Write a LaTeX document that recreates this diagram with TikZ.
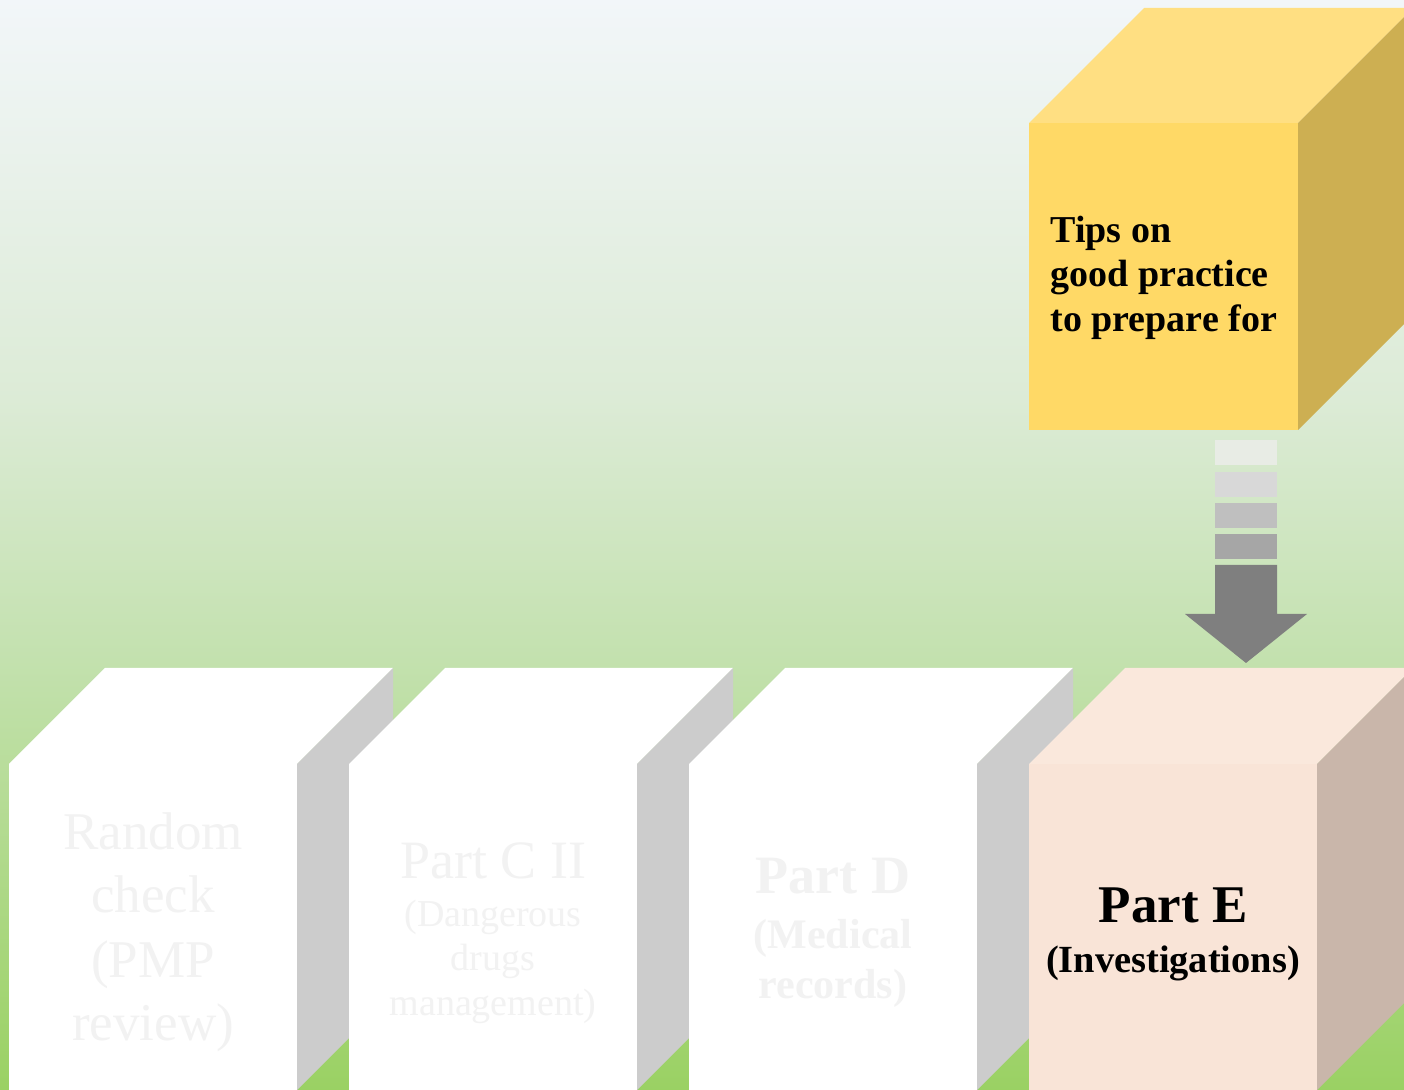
\documentclass[tikz,border=0pt]{standalone}
\usepackage{fontspec}
\setmainfont{Liberation Serif}
\usetikzlibrary{calc}
\definecolor{bgtop}{HTML}{F2F6F9}
\definecolor{bgmid}{HTML}{DCEBD6}
\definecolor{bglow}{HTML}{C3E1AE}
\definecolor{bgbot}{HTML}{9AD163}
\definecolor{ghost}{HTML}{F2F2F2}
\definecolor{sidegray}{HTML}{CCCCCC}
\definecolor{peachfront}{HTML}{F9E4D7}
\definecolor{peachtop}{HTML}{FAE8DC}
\definecolor{peachside}{HTML}{C9B6AA}
\definecolor{yelfront}{HTML}{FFD966}
\definecolor{yeltop}{HTML}{FFDF82}
\definecolor{yelside}{HTML}{CDAF52}
\definecolor{stripeA}{HTML}{E8ECE5}
\definecolor{stripeB}{HTML}{D8D8D8}
\definecolor{stripeC}{HTML}{BFBFBF}
\definecolor{stripeD}{HTML}{A6A6A6}
\definecolor{arrowgray}{HTML}{7F7F7F}
\begin{document}
\begin{tikzpicture}[x=0.5pt,y=-0.5pt,
  frontface/.style={anchor=north west,inner sep=0pt,outer sep=0pt,draw=none,
     minimum width=144pt,minimum height=163pt},
  txt/.style={anchor=base,inner sep=0pt},
  ghosttxt/.style={txt,text=ghost},
  stripe/.style={draw=none}]
\useasboundingbox (0,0) rectangle (1404,1090);
\clip (0,0) rectangle (1404,1090);
% background
\fill[top color=bgtop,bottom color=bgmid] (0,-1) rectangle (1404,400);
\fill[top color=bgmid,bottom color=bglow] (0,399) rectangle (1404,661);
\fill[top color=bglow,bottom color=bgbot] (0,660) rectangle (1404,1091);
% four lower cubes
\foreach \i/\xx/\fc/\tc/\sc in {1/9/white/white/sidegray,2/349/white/white/sidegray,3/689/white/white/sidegray,4/1029/peachfront/peachtop/peachside}{
  \fill[\tc] (\xx,764) -- (\xx+96,668) -- (\xx+384,668) -- (\xx+288,764) -- cycle;
  \fill[\sc] (\xx+288,764) -- (\xx+384,668) -- (\xx+384,994) -- (\xx+288,1090) -- cycle;
  \node[frontface,fill=\fc] (f\i) at (\xx,764) {};
}
% box 1 text
\node[ghosttxt,font=\fontsize{26.5}{32}\selectfont] (r1) at (153,849) {Random};
\node[ghosttxt,font=\fontsize{26.5}{32}\selectfont] (r2) at (153,913) {check};
\node[ghosttxt,font=\fontsize{26.5}{32}\selectfont] (r3) at (153,977) {(PMP};
\node[ghosttxt,font=\fontsize{26.5}{32}\selectfont] (r4) at (153,1040) {review)};
% box 2 text
\node[ghosttxt,font=\fontsize{27}{32}\selectfont] (c1) at (493,878) {Part C II};
\node[ghosttxt,font=\fontsize{19}{22}\selectfont] (c2) at (493,927) {(Dangerous};
\node[ghosttxt,font=\fontsize{19}{22}\selectfont] (c3) at (493,970) {drugs};
\node[ghosttxt,font=\fontsize{19}{22}\selectfont] (c4) at (493,1015) {management)};
% box 3 text
\node[ghosttxt,font=\bfseries\fontsize{27}{32}\selectfont] (d1) at (833,893) {Part D};
\node[ghosttxt,font=\bfseries\fontsize{21}{25}\selectfont] (d2) at (833,948) {(Medical};
\node[ghosttxt,font=\bfseries\fontsize{21}{25}\selectfont] (d3) at (833,998) {records)};
% box 4 text
\node[txt,font=\bfseries\fontsize{26.5}{32}\selectfont] (e1) at (1173,922) {Part E};
\node[txt,font=\bfseries\fontsize{19.2}{22}\selectfont] (e2) at (1173,972) {(Investigations)};
% yellow cube
\fill[yeltop] (1029,123) -- (1144,8) -- (1413,8) -- (1298,123) -- cycle;
\fill[yelside] (1298,123) -- (1413,8) -- (1413,315) -- (1298,430) -- cycle;
\node[frontface,fill=yelfront,minimum width=134.5pt,minimum height=153.5pt] (tips) at (1029,123) {};
\node[txt,anchor=base west,font=\bfseries\fontsize{19}{22}\selectfont] (t1) at (1050,243) {Tips on};
\node[txt,anchor=base west,font=\bfseries\fontsize{19}{22}\selectfont] (t2) at (1050,287) {good practice};
\node[txt,anchor=base west,font=\bfseries\fontsize{19}{22}\selectfont] (t3) at (1050,332) {to prepare for};
% striped block arrow from the tips cube down to Part E
\coordinate (astart) at (1246,440);
\coordinate (aend) at (1246,663);
\fill[stripeA] ($(astart)+(-31,0)$) rectangle ($(astart)+(31,25)$);
\fill[stripeB] ($(astart)+(-31,32)$) rectangle ($(astart)+(31,57)$);
\fill[stripeC] ($(astart)+(-31,63)$) rectangle ($(astart)+(31,88)$);
\fill[stripeD] ($(astart)+(-31,94)$) rectangle ($(astart)+(31,119)$);
\fill[arrowgray] ($(astart)+(-31,125)$) -- ($(astart)+(31,125)$) -- ($(aend)+(31,-49)$)
  -- ($(aend)+(61,-49)$) -- (aend) -- ($(aend)+(-61,-49)$) -- ($(aend)+(-31,-49)$) -- cycle;
\end{tikzpicture}
\end{document}
